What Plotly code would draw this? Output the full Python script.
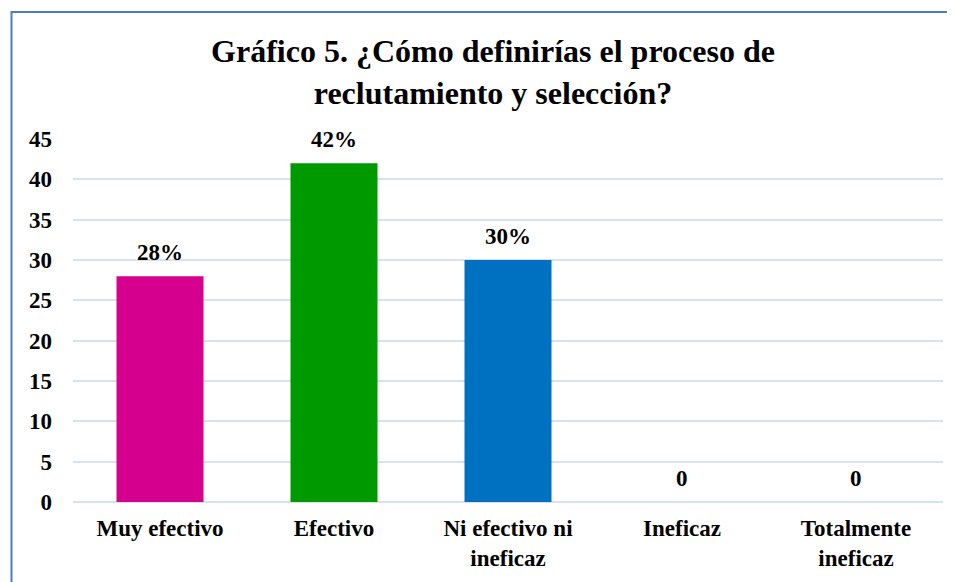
import plotly.graph_objects as go

categories = ["Muy efectivo", "Efectivo", "Ni efectivo ni<br>ineficaz", "Ineficaz", "Totalmente<br>ineficaz"]
values = [28, 42, 30, 0, 0]
labels = ["28%", "42%", "30%", "0", "0"]
colors = ["#D6008F", "#009900", "#0070C0", "#7F7F7F", "#7F7F7F"]
tick_vals = [0, 5, 10, 15, 20, 25, 30, 35, 40, 45]

FONT = "Liberation Serif, Times New Roman, serif"

# page body has an 8px margin; work in figure coordinates
OFF = 8
W, H = 955 - OFF, 582 - OFF
ml, mr, mt, mb = 73 - OFF, 12, 139 - OFF, 80
pw, ph = W - ml - mr, H - mt - mb

fig = go.Figure()
fig.add_trace(go.Bar(x=categories, y=values, marker=dict(color=colors, line=dict(width=0)),
                     hoverinfo="x+y"))

for c, v, t in zip(categories, values, labels):
    fig.add_annotation(x=c, y=v, text=t, showarrow=False,
                       yanchor="middle", yshift=24,
                       font=dict(family=FONT, size=23, color="black", weight="bold"))


def px_x(p):
    return (p - OFF - ml) / pw


def px_y(p):
    return (H - mb - (p - OFF)) / ph


fig.add_shape(type="rect", xref="paper", yref="paper",
              x0=px_x(11.5), x1=px_x(975), y0=px_y(600), y1=px_y(12),
              line=dict(color="#4A7EBB", width=2), fillcolor="rgba(0,0,0,0)", layer="below")

fig.update_layout(
    width=W, height=H,
    margin=dict(l=ml, r=mr, t=mt, b=mb),
    paper_bgcolor="white", plot_bgcolor="white",
    bargap=0.5,
    showlegend=False,
    title=dict(text="Gráfico 5. ¿Cómo definirías el proceso de<br>reclutamiento y selección?",
               x=(493 - OFF) / W, xref="container", xanchor="center",
               y=1 - (62 - OFF) / H, yref="container", yanchor="middle",
               font=dict(family=FONT, size=32, color="black", weight="bold")),
    xaxis=dict(showgrid=False, showline=False, ticks="", ticklabelstandoff=10,
               tickfont=dict(family=FONT, size=23, color="black", weight="bold")),
    yaxis=dict(range=[0, 45], tickvals=tick_vals, showgrid=True,
               gridcolor="#D6E1F1", gridwidth=2, zeroline=True, zerolinecolor="#D6E1F1",
               zerolinewidth=2, showline=False, ticks="", ticklabelstandoff=20,
               tickfont=dict(family=FONT, size=23, color="black", weight="bold")),
)

fig.write_html("out.html")
